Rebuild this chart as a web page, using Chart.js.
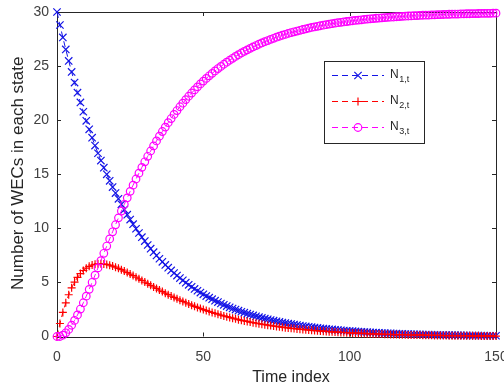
<!DOCTYPE html>
<html>
<head>
<meta charset="utf-8">
<script src="https://cdn.jsdelivr.net/npm/chart.js@4/dist/chart.umd.min.js"></script>
<style>
  html, body { margin: 0; padding: 0; background: #ffffff; }
  #wrap { width: 504px; height: 392px; position: relative; }
</style>
</head>
<body>
<div id="wrap"><canvas id="c" width="504" height="392"></canvas></div>
<script>
// Number of WECs in each state over time (states 1, 2, 3), one value per time index 0..150
const N1 = [
  30.00, 28.80, 27.65, 26.54, 25.48, 24.46, 23.48, 22.54, 21.64, 20.78,
  19.94, 19.15, 18.38, 17.65, 16.94, 16.26, 15.61, 14.99, 14.39, 13.81,
  13.26, 12.73, 12.22, 11.73, 11.26, 10.81, 10.38, 9.96, 9.57, 9.18,
  8.82, 8.46, 8.12, 7.80, 7.49, 7.19, 6.90, 6.62, 6.36, 6.11,
  5.86, 5.63, 5.40, 5.19, 4.98, 4.78, 4.59, 4.40, 4.23, 4.06,
  3.90, 3.74, 3.59, 3.45, 3.31, 3.18, 3.05, 2.93, 2.81, 2.70,
  2.59, 2.49, 2.39, 2.29, 2.20, 2.11, 2.03, 1.95, 1.87, 1.79,
  1.72, 1.65, 1.59, 1.52, 1.46, 1.40, 1.35, 1.29, 1.24, 1.19,
  1.15, 1.10, 1.06, 1.01, 0.97, 0.93, 0.90, 0.86, 0.83, 0.79,
  0.76, 0.73, 0.70, 0.67, 0.65, 0.62, 0.60, 0.57, 0.55, 0.53,
  0.51, 0.49, 0.47, 0.45, 0.43, 0.41, 0.40, 0.38, 0.37, 0.35,
  0.34, 0.32, 0.31, 0.30, 0.29, 0.27, 0.26, 0.25, 0.24, 0.23,
  0.22, 0.21, 0.21, 0.20, 0.19, 0.18, 0.18, 0.17, 0.16, 0.15,
  0.15, 0.14, 0.14, 0.13, 0.13, 0.12, 0.12, 0.11, 0.11, 0.10,
  0.10, 0.09, 0.09, 0.09, 0.08, 0.08, 0.08, 0.07, 0.07, 0.07,
  0.07
];
const N2 = [
  0.00, 1.20, 2.23, 3.11, 3.86, 4.50, 5.03, 5.46, 5.82, 6.10,
  6.32, 6.49, 6.61, 6.68, 6.72, 6.72, 6.70, 6.66, 6.59, 6.51,
  6.41, 6.30, 6.18, 6.05, 5.91, 5.77, 5.63, 5.48, 5.33, 5.18,
  5.03, 4.88, 4.73, 4.58, 4.44, 4.29, 4.15, 4.01, 3.87, 3.74,
  3.61, 3.48, 3.36, 3.24, 3.12, 3.01, 2.90, 2.79, 2.69, 2.59,
  2.49, 2.40, 2.31, 2.22, 2.14, 2.06, 1.98, 1.90, 1.83, 1.76,
  1.69, 1.63, 1.56, 1.50, 1.44, 1.39, 1.33, 1.28, 1.23, 1.18,
  1.14, 1.09, 1.05, 1.01, 0.97, 0.93, 0.89, 0.86, 0.82, 0.79,
  0.76, 0.73, 0.70, 0.67, 0.65, 0.62, 0.60, 0.57, 0.55, 0.53,
  0.51, 0.49, 0.47, 0.45, 0.43, 0.41, 0.40, 0.38, 0.37, 0.35,
  0.34, 0.32, 0.31, 0.30, 0.29, 0.28, 0.26, 0.25, 0.24, 0.23,
  0.22, 0.22, 0.21, 0.20, 0.19, 0.18, 0.18, 0.17, 0.16, 0.16,
  0.15, 0.14, 0.14, 0.13, 0.13, 0.12, 0.12, 0.11, 0.11, 0.10,
  0.10, 0.10, 0.09, 0.09, 0.08, 0.08, 0.08, 0.07, 0.07, 0.07,
  0.07, 0.06, 0.06, 0.06, 0.06, 0.05, 0.05, 0.05, 0.05, 0.05,
  0.04
];
const N3 = [
  0.00, 0.00, 0.12, 0.34, 0.65, 1.04, 1.49, 1.99, 2.54, 3.12,
  3.73, 4.36, 5.01, 5.67, 6.34, 7.01, 7.69, 8.36, 9.02, 9.68,
  10.33, 10.97, 11.60, 12.22, 12.82, 13.42, 13.99, 14.56, 15.10, 15.64,
  16.15, 16.66, 17.15, 17.62, 18.08, 18.52, 18.95, 19.36, 19.77, 20.15,
  20.53, 20.89, 21.24, 21.57, 21.90, 22.21, 22.51, 22.80, 23.08, 23.35,
  23.61, 23.86, 24.10, 24.33, 24.55, 24.77, 24.97, 25.17, 25.36, 25.54,
  25.72, 25.89, 26.05, 26.21, 26.36, 26.50, 26.64, 26.77, 26.90, 27.02,
  27.14, 27.26, 27.36, 27.47, 27.57, 27.67, 27.76, 27.85, 27.93, 28.02,
  28.10, 28.17, 28.24, 28.31, 28.38, 28.44, 28.51, 28.57, 28.62, 28.68,
  28.73, 28.78, 28.83, 28.88, 28.92, 28.97, 29.01, 29.05, 29.08, 29.12,
  29.16, 29.19, 29.22, 29.25, 29.28, 29.31, 29.34, 29.37, 29.39, 29.42,
  29.44, 29.46, 29.48, 29.50, 29.52, 29.54, 29.56, 29.58, 29.60, 29.61,
  29.63, 29.64, 29.66, 29.67, 29.68, 29.70, 29.71, 29.72, 29.73, 29.74,
  29.75, 29.76, 29.77, 29.78, 29.79, 29.80, 29.81, 29.81, 29.82, 29.83,
  29.84, 29.84, 29.85, 29.85, 29.86, 29.87, 29.87, 29.88, 29.88, 29.89,
  29.89
];

// Time index of each sample (0, 1, 2, ...)
const timeIndex = N1.map((_, t) => t);

const xTicks = [0, 50, 100, 150];
const yTicks = [0, 5, 10, 15, 20, 25, 30];

const xTitle = 'Time index';
const yTitle = 'Number of WECs in each state';

const seriesInfo = [
  { name: 'N', sub: '1,t', values: N1, color: '#1414e6', marker: 'crossRot', radius: 5.2 },
  { name: 'N', sub: '2,t', values: N2, color: '#ff0000', marker: 'cross', radius: 4.0 },
  { name: 'N', sub: '3,t', values: N3, color: '#ff00ff', marker: 'circle', radius: 3.8 }
];

const FONT = "'Liberation Sans', Arial, Helvetica, sans-serif";
const AXIS_COLOR = '#262626';

function drawMarker(ctx, style, x, y, r) {
  ctx.beginPath();
  if (style === 'circle') {
    ctx.arc(x, y, r, 0, Math.PI * 2);
  } else if (style === 'cross') {
    ctx.moveTo(x - r, y); ctx.lineTo(x + r, y);
    ctx.moveTo(x, y - r); ctx.lineTo(x, y + r);
  } else {
    const d = r * Math.SQRT1_2;
    ctx.moveTo(x - d, y - d); ctx.lineTo(x + d, y + d);
    ctx.moveTo(x - d, y + d); ctx.lineTo(x + d, y - d);
  }
  ctx.stroke();
}

// Axes box with inward ticks, axis titles and the legend
const framePlugin = {
  id: 'frame',
  beforeDatasetsDraw(chart) {
    const { ctx, chartArea: a, scales } = chart;
    ctx.save();
    ctx.strokeStyle = AXIS_COLOR;
    ctx.lineWidth = 1;
    ctx.setLineDash([]);
    ctx.strokeRect(Math.round(a.left) + 0.5, Math.round(a.top) + 0.5,
                   Math.round(a.right - a.left), Math.round(a.bottom - a.top));
    const tl = 4;
    ctx.beginPath();
    xTicks.forEach(v => {
      const px = Math.round(scales.x.getPixelForValue(v)) + 0.5;
      ctx.moveTo(px, a.bottom); ctx.lineTo(px, a.bottom - tl);
      ctx.moveTo(px, a.top); ctx.lineTo(px, a.top + tl);
    });
    yTicks.forEach(v => {
      const py = Math.round(scales.y.getPixelForValue(v)) + 0.5;
      ctx.moveTo(a.left, py); ctx.lineTo(a.left + tl, py);
      ctx.moveTo(a.right, py); ctx.lineTo(a.right - tl, py);
    });
    ctx.stroke();
    ctx.restore();
  },
  afterDraw(chart) {
    const { ctx, chartArea: a } = chart;
    ctx.save();
    ctx.fillStyle = AXIS_COLOR;
    // x axis title
    ctx.font = '16px ' + FONT;
    ctx.textAlign = 'center';
    ctx.textBaseline = 'middle';
    ctx.fillText(xTitle, 291, 378);
    // y axis title
    ctx.save();
    ctx.translate(18.5, (a.top + a.bottom) / 2 - 1);
    ctx.rotate(-Math.PI / 2);
    ctx.font = '17px ' + FONT;
    ctx.fillText(yTitle, 0, 0);
    ctx.restore();

    // legend
    const bx = 324, by = 61, bw = 100, bh = 82;
    ctx.fillStyle = '#ffffff';
    ctx.fillRect(bx, by, bw, bh);
    ctx.strokeStyle = AXIS_COLOR;
    ctx.lineWidth = 1;
    ctx.strokeRect(bx + 0.5, by + 0.5, bw, bh);
    const rows = [75, 101, 127];
    seriesInfo.forEach((s, i) => {
      const y = rows[i];
      ctx.strokeStyle = s.color;
      ctx.lineWidth = 1;
      ctx.setLineDash([6, 4]);
      ctx.beginPath();
      ctx.moveTo(332, y + 0.5); ctx.lineTo(384, y + 0.5);
      ctx.stroke();
      ctx.setLineDash([]);
      ctx.lineWidth = 1.2;
      drawMarker(ctx, s.marker, 358, y + 0.5, s.radius);
      ctx.fillStyle = AXIS_COLOR;
      ctx.textAlign = 'left';
      ctx.textBaseline = 'middle';
      ctx.font = '12px ' + FONT;
      ctx.fillText(s.name, 390, y);
      const w = ctx.measureText(s.name).width;
      ctx.font = '9px ' + FONT;
      ctx.fillText(s.sub, 390 + w + 0.5, y + 5);
    });
    ctx.restore();
  }
};

new Chart(document.getElementById('c'), {
  type: 'line',
  data: {
    datasets: seriesInfo.map((s, i) => ({
      label: s.name + s.sub,
      data: s.values.map((v, k) => ({ x: timeIndex[k], y: v })),
      borderColor: s.color,
      backgroundColor: 'rgba(0,0,0,0)',
      borderWidth: 1,
      borderDash: [6, 4],
      pointStyle: s.marker,
      pointRadius: s.radius,
      pointBorderWidth: 1.2,
      pointBorderColor: s.color,
      pointBackgroundColor: 'rgba(0,0,0,0)',
      pointHoverRadius: s.radius,
      tension: 0,
      fill: false,
      clip: false,
      order: 3 - i
    }))
  },
  options: {
    responsive: false,
    animation: false,
    devicePixelRatio: 1,
    layout: { padding: { left: 0, top: 12, right: 8, bottom: 0 }, autoPadding: false },
    plugins: { legend: { display: false }, tooltip: { enabled: false } },
    scales: {
      x: {
        type: 'linear',
        min: 0, max: 150,
        grid: { display: false, drawTicks: false },
        border: { display: false },
        afterBuildTicks: s => { s.ticks = xTicks.map(v => ({ value: v })); },
        afterFit: s => { s.height = 55.5; s.paddingLeft = 0; s.paddingRight = 0; },
        ticks: {
          autoSkip: false, maxRotation: 0, padding: 12,
          color: '#404040', font: { family: FONT, size: 14 }
        }
      },
      y: {
        type: 'linear',
        min: 0, max: 30,
        grid: { display: false, drawTicks: false },
        border: { display: false },
        afterBuildTicks: s => { s.ticks = yTicks.map(v => ({ value: v })); },
        afterFit: s => { s.width = 57; s.paddingTop = 0; s.paddingBottom = 0; },
        ticks: {
          padding: 8,
          color: '#404040', font: { family: FONT, size: 14 }
        }
      }
    }
  },
  plugins: [framePlugin]
});
</script>
</body>
</html>
